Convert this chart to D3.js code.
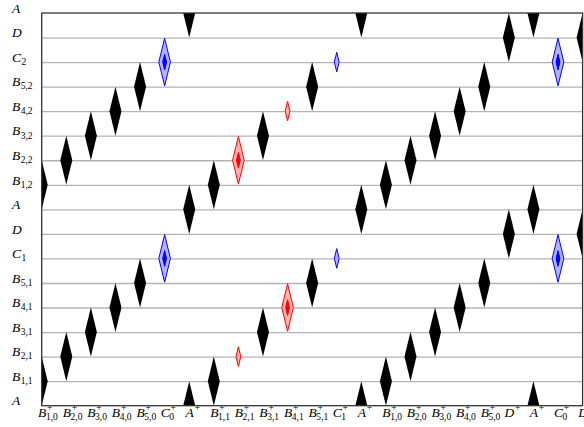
<!DOCTYPE html>
<html>
<head>
<meta charset="utf-8">
<script src="https://cdn.jsdelivr.net/npm/d3@7"></script>
<style>
  body { margin: 0; background: #fff; }
  svg { display: block; }
  .lbl { font-family: "Liberation Serif", "DejaVu Serif", serif; fill: #000; }
</style>
</head>
<body>
<svg id="chart" width="584" height="427"></svg>
<script>
// bottom labels: letter, superscript, subscript
const colLetter = ["B","B","B","B","B","C","A","B","B","B","B","B","C","A","B","B","B","B","B","D","A","C","D"];
const colSup    = ["+","+","+","+","+","+","+","+","+","+","+","+","+","+","+","+","+","+","+","+","+","+","+"];
const colSub    = ["1,0","2,0","3,0","4,0","5,0","0","","1,1","2,1","3,1","4,1","5,1","1","","1,0","2,0","3,0","4,0","5,0","","","0",""];

// left labels, bottom row first
const rowLetter = ["A","B","B","B","B","B","C","D","A","B","B","B","B","B","C","D","A"];
const rowSub    = ["","1,1","2,1","3,1","4,1","5,1","1","","","1,2","2,2","3,2","4,2","5,2","2","",""];

// cells as [column, row]
const blackCells = [
  [0,1],[0,9],[1,2],[1,10],[2,3],[2,11],[3,4],[3,12],[4,5],[4,13],
  [6,0],[6,8],[6,16],[7,1],[7,9],[9,3],[9,11],[11,5],[11,13],
  [13,0],[13,8],[13,16],[14,1],[14,9],[15,2],[15,10],[16,3],[16,11],
  [17,4],[17,12],[18,5],[18,13],[19,7],[19,15],[20,0],[20,8],[20,16],
  [22,7],[22,15]
];
const blueBigCells   = [[5,6],[5,14],[21,6],[21,14]];
const blueSmallCells = [[12,6],[12,14]];
const redBigCells    = [[8,10],[10,4]];
const redSmallCells  = [[8,2],[10,12]];

const W = 584, H = 427;
const margin = { top: 13, right: 1.4, bottom: 21.3, left: 41.7 };

const x = d3.scaleLinear().domain([0, 22]).range([margin.left, W - margin.right]);
const y = d3.scaleLinear().domain([0, 16]).range([H - margin.bottom, margin.top]);

const svg = d3.select("#chart");

svg.append("clipPath").attr("id", "plot")
  .append("rect")
  .attr("x", x(0)).attr("y", y(16))
  .attr("width", x(22) - x(0)).attr("height", y(0) - y(16));

// horizontal grid
svg.append("g")
  .attr("transform", `translate(${x(0)},0)`)
  .call(d3.axisLeft(y).tickValues(d3.range(1, 16)).tickSize(-(x(22) - x(0))).tickFormat(""))
  .call(g => g.select(".domain").remove())
  .call(g => g.selectAll(".tick line").attr("stroke", "#b3b3b3").attr("stroke-width", 1.3));

// diamonds
const ratio = 0.244; // half width in column units per row unit
function diamond(c, r, s) {
  return d3.line()([
    [x(c), y(r + s)], [x(c + s * ratio), y(r)],
    [x(c), y(r - s)], [x(c - s * ratio), y(r)]
  ]) + "Z";
}

const marks = svg.append("g").attr("clip-path", "url(#plot)");

function draw(cells, s, fill, stroke) {
  marks.selectAll(null)
    .data(cells)
    .enter()
    .append("path")
    .attr("d", d => diamond(d[0], d[1], s))
    .attr("fill", fill)
    .attr("stroke", stroke)
    .attr("stroke-width", stroke === "none" ? 0 : 1)
    .attr("stroke-linejoin", "miter");
}

draw(blackCells, 1, "#000", "none");
draw(blueBigCells, 0.97, "#b3b3ff", "#0000ff");
draw(blueBigCells, 0.32, "#0000ff", "#0000ff");
draw(redBigCells, 0.97, "#ffb3b3", "#ff0000");
draw(redBigCells, 0.32, "#ff0000", "#ff0000");
draw(blueSmallCells, 0.4, "#b3b3ff", "#0000ff");
draw(redSmallCells, 0.4, "#ffb3b3", "#ff0000");

// frame
svg.append("rect")
  .attr("x", x(0)).attr("y", y(16))
  .attr("width", x(22) - x(0)).attr("height", y(0) - y(16))
  .attr("fill", "none").attr("stroke", "#333").attr("stroke-width", 1.3);

// bottom axis labels
const xAxis = svg.append("g")
  .attr("transform", `translate(0,${y(0)})`)
  .call(d3.axisBottom(x).tickValues(d3.range(0, 23)).tickSize(0).tickFormat(""));
xAxis.select(".domain").remove();

xAxis.selectAll(".tick").each(function(d) {
  const g = d3.select(this);
  const t = g.append("text").attr("class", "lbl")
    .attr("text-anchor", "middle")
    .attr("y", 11.4)
    .style("font-size", "13.5px").style("font-style", "italic")
    .text(colLetter[d]);
  const w = t.node().getComputedTextLength();
  g.append("text").attr("class", "lbl")
    .attr("text-anchor", "start")
    .attr("x", w / 2 + 0.8).attr("y", 5.6)
    .style("font-size", "9.5px")
    .text(colSup[d]);
  g.append("text").attr("class", "lbl")
    .attr("text-anchor", "start")
    .attr("x", w / 2 - 0.4).attr("y", 14)
    .style("font-size", "9.5px")
    .text(colSub[d]);
});

// left labels
const yLabels = svg.append("g");
d3.range(0, 17).forEach(r => {
  const t = yLabels.append("text").attr("class", "lbl")
    .attr("x", 12).attr("y", y(r) - 0.3)
    .style("font-size", "13.5px").style("font-style", "italic")
    .text(rowLetter[r]);
  const w = t.node().getComputedTextLength();
  if (rowSub[r]) {
    yLabels.append("text").attr("class", "lbl")
      .attr("x", 12 + w + 0.4).attr("y", y(r) + 2.8)
      .style("font-size", "9.5px")
      .text(rowSub[r]);
  }
});
</script>
</body>
</html>
